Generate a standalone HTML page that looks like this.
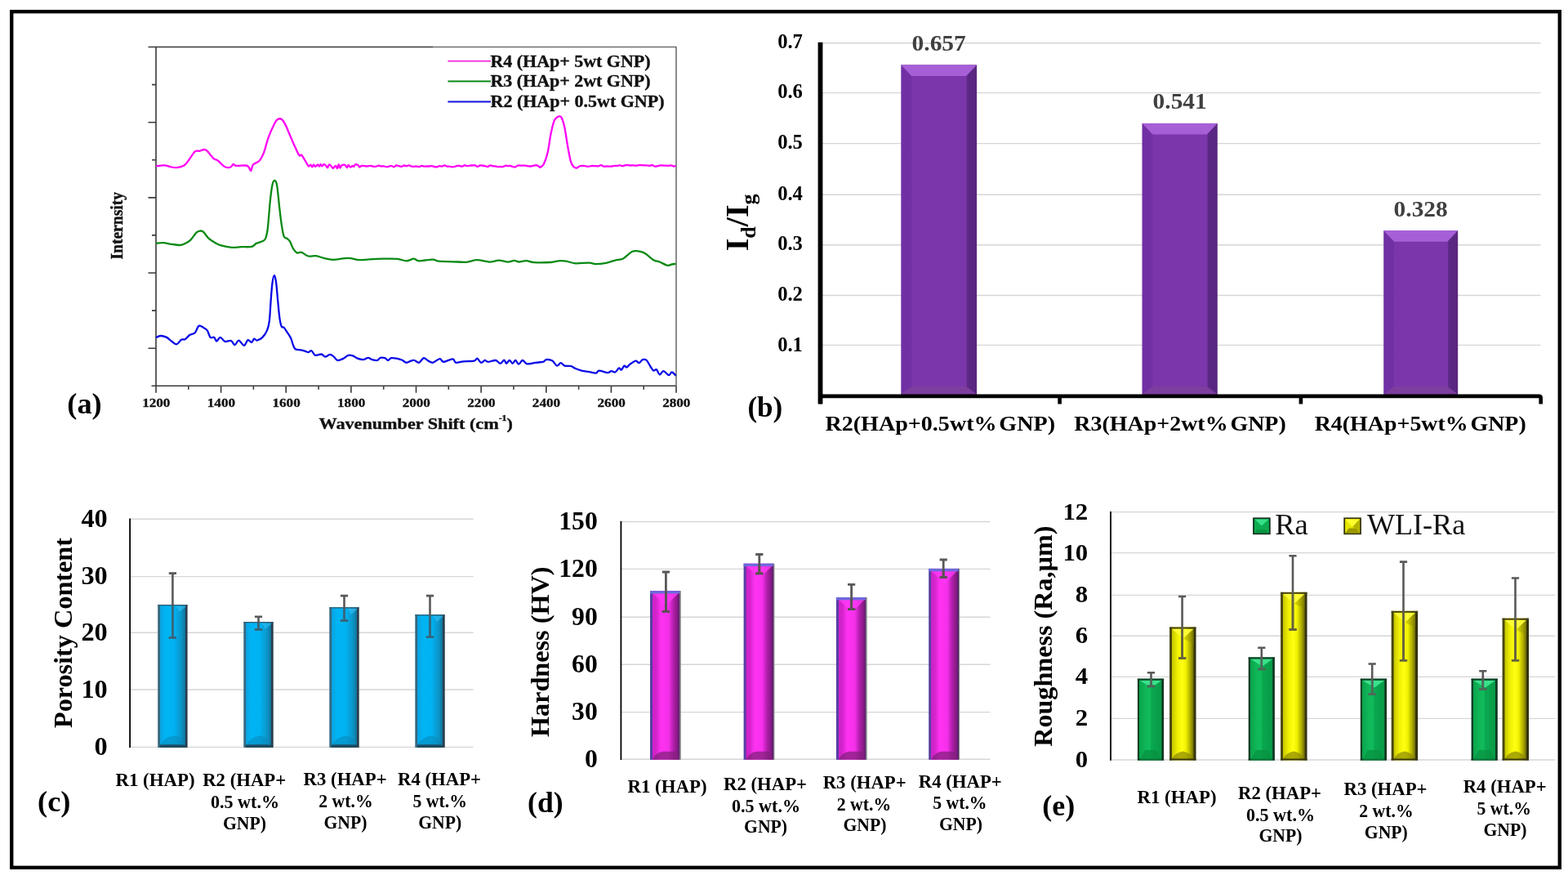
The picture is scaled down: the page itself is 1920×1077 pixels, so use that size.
<!DOCTYPE html>
<html lang="en">
<head>
<meta charset="utf-8">
<title>Raman spectra, Id/Ig ratio, porosity, hardness and roughness of HAp-GNP coatings</title>
<style>
html,body{margin:0;padding:0;background:#fff;}
body{width:1920px;height:1077px;overflow:hidden;}
svg{display:block;font-family:"Liberation Serif","DejaVu Serif",serif;}
</style>
</head>
<body>
<svg width="1920" height="1077" viewBox="0 0 1920 1077">
<rect width="1920" height="1077" fill="#ffffff"/>
<rect x="14.2" y="14.2" width="1895.6" height="1047.6" fill="#fff" stroke="#000" stroke-width="4.4"/>
<g id="chart-a" stroke-linejoin="round">
<g stroke="#3a3a3a" stroke-width="1.6" fill="none" stroke-linecap="butt">
<path d="M181.5 57.5 H530 M191.0 57.5 V480.8 M185.5 472.3 H828.0 M828.0 472.3 V480.8"/>
<path d="M530 57.5 H828.0 V472.3" stroke="#6e6e6e"/>
<path d="M186.0 103.6 H191.0 M181.5 149.7 H191.0 M186.0 195.8 H191.0 M181.5 241.9 H191.0 M186.0 287.9 H191.0 M181.5 334.0 H191.0 M186.0 380.1 H191.0 M181.5 426.2 H191.0 M230.8 472.3 V476.8 M270.6 472.3 V480.8 M310.4 472.3 V476.8 M350.2 472.3 V480.8 M390.1 472.3 V476.8 M429.9 472.3 V480.8 M469.7 472.3 V476.8 M509.5 472.3 V480.8 M549.3 472.3 V476.8 M589.1 472.3 V480.8 M628.9 472.3 V476.8 M668.8 472.3 V480.8 M708.6 472.3 V476.8 M748.4 472.3 V480.8 M788.2 472.3 V476.8 "/>
</g>
<path d="M191.0 203.2C192.7 203.0 198.3 202.1 201.3 202.3C204.3 202.5 206.3 203.7 208.8 204.2C211.3 204.7 213.5 205.4 216.3 205.1C219.1 204.8 223.2 203.9 225.7 202.3C228.2 200.7 229.1 198.5 231.3 195.7C233.5 192.9 236.6 187.2 238.8 185.4C241.0 183.6 242.5 185.2 244.4 184.8C246.3 184.4 248.4 183.0 250.0 183.0C251.6 183.0 251.9 183.0 253.8 184.8C255.7 186.6 259.1 191.8 261.3 193.8C263.5 195.8 264.8 195.1 267.0 196.7C269.2 198.3 272.2 202.2 274.4 203.6C276.6 205.0 278.6 205.0 280.0 205.1C281.4 205.2 282.1 204.9 283.0 204.2C283.9 203.5 284.6 201.2 285.7 201.0C286.8 200.8 286.9 202.7 289.4 202.9C291.9 203.2 298.2 202.3 300.7 202.5C303.2 202.7 303.3 203.1 304.4 204.2C305.5 205.3 306.4 209.4 307.3 208.9C308.2 208.4 308.3 203.4 310.0 201.4C311.7 199.4 315.4 199.2 317.6 196.7C319.8 194.2 321.3 191.2 323.2 186.3C325.1 181.5 326.7 173.5 328.9 167.6C331.1 161.7 334.5 154.3 336.4 150.7C338.3 147.1 338.7 146.8 340.1 146.0C341.5 145.2 343.2 144.9 344.8 146.0C346.4 147.1 347.8 149.3 349.5 152.6C351.2 155.9 353.2 161.3 355.1 165.7C357.0 170.1 358.9 174.7 360.8 178.8C362.7 182.9 365.0 188.3 366.4 190.1C367.8 191.9 368.1 188.9 369.0 189.5C369.9 190.1 371.1 192.4 372.0 193.8C372.9 195.2 373.6 196.4 374.5 198.0C375.4 199.6 376.9 202.4 377.6 203.2C378.4 204.0 378.5 202.9 379.0 202.7C379.5 202.4 380.1 201.5 380.7 201.8C381.3 202.1 381.8 204.5 382.4 204.4C383.0 204.3 383.5 201.5 384.1 201.4C384.7 201.3 385.2 203.5 385.8 203.8C386.4 204.0 386.9 203.3 387.5 202.9C388.1 202.5 388.6 201.2 389.2 201.3C389.8 201.4 390.3 203.7 390.9 203.6C391.5 203.6 392.0 201.3 392.6 201.2C393.2 201.1 393.7 203.2 394.3 203.3C394.9 203.3 395.4 201.7 396.0 201.4C396.6 201.1 397.1 201.2 397.7 201.5C398.3 201.8 398.8 202.6 399.4 203.2C400.0 203.8 400.5 205.6 401.1 205.3C401.7 205.0 402.2 202.2 402.8 201.6C403.4 201.1 403.9 201.7 404.5 202.2C405.1 202.6 405.6 203.6 406.2 204.3C406.8 204.9 407.3 206.0 407.9 205.9C408.5 205.9 409.0 204.5 409.6 204.0C410.2 203.5 410.7 202.7 411.3 203.1C411.9 203.4 412.4 206.4 413.0 206.1C413.6 205.8 414.1 201.3 414.7 201.2C415.3 201.1 415.8 205.3 416.4 205.5C417.0 205.7 417.5 203.1 418.1 202.5C418.7 201.9 419.2 201.9 419.8 201.8C420.4 201.6 420.9 201.5 421.5 201.6C422.1 201.8 422.6 202.0 423.2 202.6C423.8 203.2 424.3 205.4 424.9 205.2C425.5 205.1 426.0 202.1 426.6 201.9C427.2 201.7 427.7 203.6 428.3 204.0C428.9 204.4 429.4 204.5 430.0 204.3C430.6 204.1 431.1 203.0 431.7 202.9C432.3 202.9 432.8 204.1 433.4 203.8C434.0 203.6 434.5 201.7 435.1 201.3C435.7 200.9 436.2 201.2 436.8 201.3C437.4 201.4 437.9 201.5 438.5 202.1C439.1 202.6 439.6 204.4 440.2 204.5C440.8 204.7 441.2 203.4 442.0 203.1C442.8 202.9 444.1 202.8 445.1 202.9C446.1 202.9 447.2 203.4 448.2 203.5C449.2 203.5 450.3 203.3 451.3 203.2C452.3 203.1 453.4 202.7 454.4 202.9C455.4 203.0 456.5 203.8 457.5 203.9C458.5 204.1 459.6 203.9 460.6 203.7C461.6 203.5 462.7 202.8 463.7 202.7C464.7 202.7 465.8 203.4 466.8 203.5C467.8 203.6 468.9 203.2 469.9 203.4C470.9 203.5 472.0 204.1 473.0 204.1C474.0 204.2 475.1 204.0 476.1 203.8C477.1 203.6 478.2 202.7 479.2 202.8C480.2 202.9 481.3 204.4 482.3 204.4C483.3 204.3 484.4 202.7 485.4 202.5C486.4 202.3 487.5 202.9 488.5 203.1C489.5 203.4 490.6 204.0 491.6 203.9C492.6 203.8 493.7 202.6 494.7 202.5C495.7 202.4 496.8 203.3 497.8 203.3C498.8 203.2 499.9 202.2 500.9 202.3C501.9 202.4 503.0 203.4 504.0 203.7C505.0 203.9 506.1 203.9 507.1 203.9C508.1 203.8 509.2 203.4 510.2 203.5C511.2 203.5 512.3 204.2 513.3 204.1C514.3 204.0 515.4 203.0 516.4 202.9C517.4 202.8 518.5 203.6 519.5 203.7C520.5 203.8 521.6 203.5 522.6 203.5C523.6 203.5 524.7 203.5 525.7 203.5C526.7 203.4 527.8 203.1 528.8 203.2C529.8 203.3 530.9 203.9 531.9 204.0C532.9 204.2 534.0 204.4 535.0 204.3C536.0 204.1 537.1 203.3 538.1 203.2C539.1 203.1 540.2 203.8 541.2 203.7C542.2 203.5 543.3 202.3 544.3 202.3C545.3 202.3 546.4 203.5 547.4 203.7C548.4 204.0 549.5 203.5 550.5 203.6C551.5 203.7 552.6 204.3 553.6 204.4C554.6 204.4 555.7 204.3 556.7 204.0C557.7 203.7 558.8 203.0 559.8 202.8C560.8 202.7 561.9 202.9 562.9 203.0C563.9 203.2 565.0 203.8 566.0 203.7C567.0 203.5 568.1 202.3 569.1 202.2C570.1 202.2 571.2 203.2 572.2 203.2C573.2 203.3 574.3 202.7 575.3 202.6C576.3 202.4 577.4 202.5 578.4 202.5C579.4 202.4 580.5 202.1 581.5 202.3C582.5 202.6 583.6 203.9 584.6 203.9C585.6 203.9 586.7 202.7 587.7 202.5C588.7 202.3 589.8 202.6 590.8 202.7C591.8 202.8 592.9 202.8 593.9 203.1C594.9 203.3 596.0 204.2 597.0 204.1C598.0 204.0 599.1 202.5 600.1 202.4C601.1 202.2 602.2 203.0 603.2 203.2C604.2 203.4 605.3 203.2 606.3 203.4C607.3 203.6 608.4 204.0 609.4 204.1C610.4 204.2 611.5 204.0 612.5 204.0C613.5 204.0 614.6 204.3 615.6 204.1C616.6 203.9 617.7 203.0 618.7 202.8C619.7 202.6 620.8 203.1 621.8 203.1C622.8 203.1 623.9 202.8 624.9 203.0C625.9 203.2 627.0 203.9 628.0 204.1C629.0 204.4 630.1 204.6 631.1 204.3C632.1 204.0 633.2 202.8 634.2 202.5C635.2 202.2 636.3 202.6 637.3 202.6C638.3 202.6 639.4 202.7 640.4 202.7C641.4 202.7 642.5 202.6 643.5 202.7C644.5 202.8 645.6 203.1 646.6 203.3C647.6 203.4 648.7 203.6 649.7 203.5C650.7 203.4 651.8 203.0 652.8 202.8C653.8 202.6 654.9 202.2 655.9 202.2C656.9 202.3 658.1 202.7 659.0 203.1C659.9 203.5 660.2 205.2 661.4 204.7C662.6 204.2 664.5 203.5 666.0 200.4C667.5 197.3 669.3 192.4 670.7 186.3C672.1 180.2 673.2 170.1 674.5 163.8C675.8 157.6 677.0 152.2 678.2 148.8C679.5 145.4 680.9 144.7 682.0 143.6C683.1 142.5 683.9 142.3 684.8 142.4C685.7 142.5 686.5 141.8 687.6 144.1C688.7 146.4 690.1 150.5 691.4 156.3C692.6 162.1 693.9 171.9 695.1 178.8C696.4 185.7 697.6 193.4 698.9 197.6C700.1 201.8 701.4 202.9 702.6 204.2C703.9 205.5 705.1 205.7 706.4 205.5C707.6 205.3 709.0 203.7 710.1 203.2C711.2 202.7 712.0 202.8 713.0 202.8C714.0 202.8 715.2 202.9 716.3 203.1C717.4 203.3 718.5 203.8 719.6 203.8C720.7 203.9 721.8 203.5 722.9 203.3C724.0 203.2 725.1 203.0 726.2 203.0C727.3 203.0 728.4 203.2 729.5 203.2C730.6 203.3 731.7 203.5 732.8 203.3C733.9 203.1 735.0 202.1 736.1 202.2C737.2 202.3 738.3 203.5 739.4 203.7C740.5 203.9 741.6 203.5 742.7 203.5C743.8 203.5 744.9 203.7 746.0 203.7C747.1 203.7 748.2 203.7 749.3 203.5C750.4 203.4 751.5 202.9 752.6 202.8C753.7 202.7 754.8 202.9 755.9 202.8C757.0 202.7 758.1 202.2 759.2 202.3C760.3 202.4 761.4 203.3 762.5 203.2C763.6 203.2 764.7 202.4 765.8 202.2C766.9 202.0 768.0 202.2 769.1 202.2C770.2 202.3 771.3 202.4 772.4 202.5C773.5 202.5 774.6 202.4 775.7 202.4C776.8 202.4 777.9 202.7 779.0 202.7C780.1 202.7 781.2 202.3 782.3 202.2C783.4 202.1 784.5 202.1 785.6 202.1C786.7 202.1 787.8 202.3 788.9 202.4C790.0 202.4 791.1 202.2 792.2 202.3C793.3 202.3 794.4 202.8 795.5 202.8C796.6 202.7 797.7 202.0 798.8 202.1C799.9 202.3 801.0 203.5 802.1 203.7C803.2 203.9 804.3 203.4 805.4 203.2C806.5 203.0 807.6 202.5 808.7 202.4C809.8 202.3 810.9 202.5 812.0 202.6C813.1 202.6 814.2 202.7 815.3 202.7C816.4 202.8 817.5 202.8 818.6 202.8C819.7 202.7 820.8 202.2 821.9 202.3C823.0 202.5 824.2 203.5 825.2 203.6C826.1 203.7 827.2 202.9 827.6 202.8" fill="none" stroke="#ff00f6" stroke-width="2.3" stroke-linejoin="round" stroke-linecap="butt"/>
<path d="M191.0 297.9C192.4 297.8 196.1 297.0 199.4 297.2C202.7 297.4 207.2 298.4 210.6 298.9C214.0 299.4 217.5 300.1 220.0 300.0C222.5 299.9 223.5 299.5 225.7 298.5C227.9 297.5 230.7 296.2 233.2 293.8C235.7 291.4 238.7 286.3 240.7 284.4C242.7 282.5 244.0 282.6 245.4 282.5C246.8 282.4 247.4 282.3 249.1 283.9C250.8 285.5 253.3 289.7 255.7 291.9C258.1 294.1 260.7 295.6 263.2 297.0C265.7 298.4 267.3 299.4 270.7 300.4C274.1 301.4 279.7 302.5 283.8 302.8C287.9 303.1 291.0 302.4 295.1 302.2C299.2 302.0 305.1 302.6 308.2 301.9C311.3 301.2 311.6 299.0 313.8 297.9C316.0 296.8 319.4 296.3 321.3 295.3C323.2 294.3 324.0 294.6 325.1 291.9C326.2 289.1 327.0 286.3 327.9 278.8C328.8 271.3 329.8 255.7 330.7 246.9C331.6 238.2 332.6 230.6 333.5 226.3C334.4 222.0 335.4 220.8 336.4 221.0C337.3 221.2 338.3 221.9 339.2 227.2C340.1 232.4 341.1 244.5 342.0 252.5C342.9 260.5 343.9 268.9 344.8 275.0C345.7 281.1 346.5 286.3 347.6 289.1C348.7 291.9 350.1 290.8 351.4 291.9C352.6 293.0 353.9 293.7 355.1 295.7C356.4 297.7 357.5 301.8 358.9 304.1C360.3 306.4 361.9 308.6 363.6 309.4C365.3 310.2 366.9 308.1 369.2 308.8C371.5 309.5 374.6 312.8 377.6 313.5C380.6 314.2 383.9 312.7 387.0 313.1C390.1 313.5 392.9 315.1 396.4 315.9C399.8 316.7 402.7 317.8 407.7 317.8C412.7 317.8 421.1 315.8 426.4 315.9C431.7 316.0 435.2 317.9 439.6 318.2C444.0 318.4 447.7 317.6 452.7 317.4C457.7 317.1 464.0 316.8 469.6 316.7C475.2 316.6 481.8 316.5 486.5 316.9C491.2 317.3 494.3 319.3 497.7 319.3C501.1 319.3 504.0 316.7 506.6 316.7C509.2 316.7 509.2 319.1 513.1 319.3C517.0 319.5 525.9 317.5 530.0 317.6C534.1 317.7 532.5 319.2 537.5 319.7C542.5 320.2 554.4 320.3 560.0 320.5C565.6 320.7 567.2 321.2 571.3 320.8C575.4 320.4 579.7 318.2 584.4 318.2C589.1 318.2 595.0 320.5 599.4 320.6C603.8 320.7 606.9 318.6 610.7 318.6C614.5 318.6 618.9 320.6 622.0 320.6C625.1 320.6 627.3 318.8 629.5 318.8C631.7 318.8 632.6 320.4 635.1 320.5C637.6 320.6 641.4 319.0 644.5 319.1C647.6 319.2 648.9 320.9 653.9 321.2C658.9 321.5 669.5 321.3 674.5 321.0C679.5 320.7 680.8 319.5 683.9 319.3C687.0 319.1 689.8 319.2 693.2 319.7C696.6 320.2 699.8 322.0 704.5 322.3C709.2 322.6 717.3 321.5 721.4 321.6C725.5 321.7 725.5 323.1 728.9 323.1C732.3 323.2 737.9 322.6 742.0 321.9C746.1 321.1 749.8 319.5 753.3 318.6C756.8 317.7 759.9 318.0 762.7 316.7C765.5 315.4 768.0 312.3 770.2 310.7C772.4 309.1 773.3 307.7 775.8 307.3C778.3 306.9 782.7 307.5 785.2 308.1C787.7 308.7 788.3 309.0 790.8 310.7C793.3 312.4 797.4 316.6 800.2 318.2C803.0 319.8 804.9 319.4 807.7 320.5C810.5 321.6 814.6 324.3 817.1 324.8C819.6 325.3 821.0 323.8 822.7 323.5C824.5 323.2 826.8 323.0 827.6 322.9" fill="none" stroke="#0a8a14" stroke-width="2.3" stroke-linejoin="round" stroke-linecap="butt"/>
<path d="M191.0 413.2C191.9 412.8 194.4 411.1 196.6 411.0C198.8 410.9 202.1 412.0 204.1 412.9C206.1 413.8 206.8 415.2 208.8 416.6C210.8 418.0 214.1 421.5 216.3 421.3C218.5 421.1 220.2 416.7 221.9 415.7C223.6 414.7 224.9 416.2 226.6 415.3C228.3 414.4 230.2 411.4 232.2 410.0C234.2 408.6 237.1 408.9 238.8 407.2C240.5 405.5 241.5 401.1 242.6 399.7C243.7 398.3 244.2 398.5 245.4 398.8C246.7 399.1 248.7 400.7 250.1 401.6C251.5 402.5 252.6 402.5 253.8 404.4C255.1 406.3 256.2 411.5 257.6 412.9C259.0 414.3 261.1 412.1 262.3 412.9C263.6 413.7 263.9 417.6 265.1 417.6C266.4 417.6 268.1 412.8 269.8 412.9C271.5 412.9 273.2 417.2 275.4 417.9C277.6 418.6 280.9 416.3 282.9 417.0C284.9 417.7 286.0 422.3 287.6 422.2C289.2 422.1 290.4 416.5 292.3 416.6C294.2 416.7 296.9 422.9 298.8 422.8C300.7 422.7 301.9 416.7 303.5 416.1C305.1 415.5 306.9 419.3 308.2 419.1C309.4 418.9 309.9 415.1 311.0 414.7C312.1 414.3 313.1 416.9 314.8 416.6C316.5 416.3 319.4 414.9 321.4 412.9C323.4 410.9 325.6 407.7 327.0 404.4C328.4 401.1 329.0 399.4 329.8 393.2C330.6 386.9 331.1 374.7 331.7 366.9C332.3 359.1 332.8 351.3 333.5 346.3C334.2 341.3 335.2 336.9 336.0 336.9C336.8 336.9 337.5 341.3 338.2 346.3C338.9 351.3 339.4 359.7 340.1 366.9C340.8 374.1 341.6 383.9 342.4 389.4C343.2 394.9 343.9 397.8 344.8 399.7C345.7 401.6 346.5 399.6 347.6 400.7C348.7 401.8 350.0 404.1 351.4 406.3C352.8 408.5 354.9 411.2 356.1 413.8C357.4 416.4 358.0 419.9 358.9 422.2C359.8 424.4 360.1 426.3 361.7 427.3C363.3 428.3 366.3 427.9 368.3 428.3C370.3 428.7 372.3 429.3 373.9 429.8C375.4 430.3 376.4 431.2 377.6 431.1C378.9 431.0 380.0 428.6 381.4 429.2C382.8 429.8 384.1 434.1 386.1 434.8C388.1 435.5 391.6 433.2 393.6 433.5C395.6 433.8 396.6 436.6 398.3 436.7C400.0 436.8 402.2 434.0 403.9 433.9C405.6 433.8 407.0 435.1 408.6 436.3C410.2 437.5 411.3 440.6 413.3 441.0C415.3 441.4 418.6 439.6 420.8 438.6C423.0 437.6 424.5 435.3 426.4 434.8C428.3 434.3 430.1 434.8 432.0 435.4C433.9 436.0 435.5 437.8 437.7 438.6C439.9 439.4 443.0 440.2 445.2 440.1C447.4 440.0 449.1 437.8 450.8 437.8C452.5 437.8 453.6 439.6 455.5 440.1C457.4 440.6 460.3 441.4 462.0 441.0C463.7 440.6 464.2 438.3 465.8 437.8C467.4 437.3 469.8 437.7 471.4 438.2C473.0 438.7 473.9 441.0 475.2 441.0C476.5 441.0 477.1 438.6 479.0 438.2C480.9 437.8 484.3 438.4 486.5 438.8C488.7 439.2 490.1 439.7 492.0 440.5C493.9 441.3 495.8 443.6 497.7 443.8C499.6 444.0 501.7 442.1 503.3 441.6C504.9 441.1 505.9 440.6 507.5 441.0C509.1 441.4 511.2 444.3 513.1 443.8C515.0 443.3 516.9 438.6 518.8 438.2C520.7 437.8 522.5 440.7 524.4 441.6C526.3 442.5 527.6 444.2 530.0 443.8C532.4 443.4 536.3 439.2 538.5 439.1C540.7 439.0 540.5 442.9 543.1 442.9C545.8 442.9 551.9 439.1 554.4 439.3C556.9 439.5 556.0 443.3 558.2 443.8C560.4 444.3 563.8 442.7 567.5 442.3C571.2 441.9 577.9 442.2 580.7 441.6C583.5 441.0 583.0 438.2 584.4 438.6C585.8 439.0 587.5 443.4 589.1 443.8C590.7 444.2 592.4 441.1 593.8 441.0C595.2 440.9 595.4 442.9 597.6 442.9C599.8 442.9 604.4 440.7 606.9 441.0C609.4 441.3 610.9 444.9 612.6 444.8C614.3 444.7 616.1 440.6 617.3 440.6C618.5 440.6 618.9 444.7 620.0 444.8C621.1 444.9 622.5 441.0 623.8 441.0C625.1 441.0 626.4 444.8 627.6 444.8C628.9 444.8 630.0 440.9 631.3 441.0C632.5 441.1 633.7 445.7 635.1 445.7C636.5 445.7 638.1 441.1 639.8 441.0C641.5 440.9 642.8 444.8 645.4 445.3C648.0 445.8 652.4 444.2 655.7 443.8C659.0 443.4 662.9 443.5 665.1 442.9C667.3 442.3 667.0 440.3 668.9 440.1C670.8 439.9 674.2 440.4 676.4 441.6C678.6 442.9 680.3 447.2 682.0 447.6C683.7 448.0 685.1 444.2 686.7 444.2C688.3 444.2 689.4 447.0 691.4 447.6C693.4 448.2 696.7 447.4 698.9 448.0C701.1 448.6 702.3 450.1 704.5 451.0C706.7 451.9 709.2 452.9 712.0 453.6C714.8 454.3 718.4 454.6 721.4 455.1C724.4 455.6 727.8 456.9 729.8 456.6C731.8 456.4 731.2 453.7 733.6 453.6C736.0 453.5 741.4 456.1 743.9 456.2C746.4 456.3 747.0 454.2 748.6 454.1C750.2 454.0 751.7 456.1 753.3 455.5C754.9 454.9 756.8 450.8 758.0 450.4C759.2 449.9 759.7 453.3 760.8 452.8C761.9 452.3 763.4 448.2 764.5 447.6C765.6 447.1 766.1 449.9 767.4 449.5C768.6 449.1 770.1 446.6 772.0 445.3C773.9 444.0 776.9 441.8 778.6 441.6C780.3 441.4 781.0 444.4 782.4 444.2C783.8 443.9 785.5 440.6 787.1 440.1C788.7 439.6 790.2 439.6 791.8 441.0C793.3 442.4 795.0 446.4 796.4 448.5C797.8 450.6 799.0 453.0 800.2 453.6C801.5 454.2 802.6 451.5 803.9 452.3C805.1 453.1 806.3 458.2 807.7 458.5C809.1 458.8 810.5 454.0 812.4 454.1C814.3 454.2 817.2 459.0 818.9 459.2C820.6 459.4 821.2 455.4 822.7 455.5C824.2 455.6 826.8 459.1 827.6 459.8" fill="none" stroke="#0a0ae6" stroke-width="2.3" stroke-linejoin="round" stroke-linecap="butt"/>
<line x1="548.4" y1="74.7" x2="601" y2="74.7" stroke="#f040e0" stroke-width="2"/>
<text x="600.5" y="81.5" font-size="20" text-anchor="start" font-weight="bold" fill="#111" textLength="196.0" lengthAdjust="spacingAndGlyphs" stroke="#111" stroke-width="0.35">R4 (HAp+ 5wt GNP)</text>
<line x1="548.4" y1="99.6" x2="601" y2="99.6" stroke="#0a8a14" stroke-width="2"/>
<text x="600.5" y="106.4" font-size="20" text-anchor="start" font-weight="bold" fill="#111" textLength="196.0" lengthAdjust="spacingAndGlyphs" stroke="#111" stroke-width="0.35">R3 (HAp+ 2wt GNP)</text>
<line x1="548.4" y1="124.5" x2="601" y2="124.5" stroke="#1010e0" stroke-width="2"/>
<text x="600.5" y="131.3" font-size="20" text-anchor="start" font-weight="bold" fill="#111" textLength="213.0" lengthAdjust="spacingAndGlyphs" stroke="#111" stroke-width="0.35">R2 (HAp+ 0.5wt GNP)</text>
<text x="191.3" y="498.3" font-size="15" text-anchor="middle" font-weight="bold" fill="#111" textLength="34.3" lengthAdjust="spacingAndGlyphs" stroke="#111" stroke-width="0.3">1200</text>
<text x="270.9" y="498.3" font-size="15" text-anchor="middle" font-weight="bold" fill="#111" textLength="34.3" lengthAdjust="spacingAndGlyphs" stroke="#111" stroke-width="0.3">1400</text>
<text x="350.6" y="498.3" font-size="15" text-anchor="middle" font-weight="bold" fill="#111" textLength="34.3" lengthAdjust="spacingAndGlyphs" stroke="#111" stroke-width="0.3">1600</text>
<text x="430.2" y="498.3" font-size="15" text-anchor="middle" font-weight="bold" fill="#111" textLength="34.3" lengthAdjust="spacingAndGlyphs" stroke="#111" stroke-width="0.3">1800</text>
<text x="509.8" y="498.3" font-size="15" text-anchor="middle" font-weight="bold" fill="#111" textLength="34.3" lengthAdjust="spacingAndGlyphs" stroke="#111" stroke-width="0.3">2000</text>
<text x="589.4" y="498.3" font-size="15" text-anchor="middle" font-weight="bold" fill="#111" textLength="34.3" lengthAdjust="spacingAndGlyphs" stroke="#111" stroke-width="0.3">2200</text>
<text x="669.0" y="498.3" font-size="15" text-anchor="middle" font-weight="bold" fill="#111" textLength="34.3" lengthAdjust="spacingAndGlyphs" stroke="#111" stroke-width="0.3">2400</text>
<text x="748.7" y="498.3" font-size="15" text-anchor="middle" font-weight="bold" fill="#111" textLength="34.3" lengthAdjust="spacingAndGlyphs" stroke="#111" stroke-width="0.3">2600</text>
<text x="828.3" y="498.3" font-size="15" text-anchor="middle" font-weight="bold" fill="#111" textLength="34.3" lengthAdjust="spacingAndGlyphs" stroke="#111" stroke-width="0.3">2800</text>
<text x="509.2" y="524.5" font-size="19.6" text-anchor="middle" font-weight="bold" fill="#111" textLength="237.5" lengthAdjust="spacingAndGlyphs" stroke="#111" stroke-width="0.35">Wavenumber Shift (cm<tspan font-size="10.5" dy="-9.5">-1</tspan><tspan dy="9.5">)</tspan></text>
<text x="150.2" y="276.3" font-size="22" text-anchor="middle" font-weight="bold" fill="#111" transform="rotate(-90 150.2 276.3)" textLength="82.5" lengthAdjust="spacingAndGlyphs" stroke="#111" stroke-width="0.45">Internsity</text>
<text x="103.5" y="506.3" font-size="36.3" text-anchor="middle" font-weight="bold" fill="#000">(a)</text>
</g>
<g id="chart-b">
<line x1="1007" y1="422.4" x2="1886.5" y2="422.4" stroke="#d6d6d6" stroke-width="1.4"/>
<text x="982.9" y="430.4" font-size="24.6" text-anchor="end" font-weight="bold" fill="#000">0.1</text>
<line x1="1007" y1="361.5" x2="1886.5" y2="361.5" stroke="#d6d6d6" stroke-width="1.4"/>
<text x="982.9" y="368.1" font-size="24.6" text-anchor="end" font-weight="bold" fill="#000">0.2</text>
<line x1="1007" y1="299.7" x2="1886.5" y2="299.7" stroke="#d6d6d6" stroke-width="1.4"/>
<text x="982.9" y="306.3" font-size="24.6" text-anchor="end" font-weight="bold" fill="#000">0.3</text>
<line x1="1007" y1="238.2" x2="1886.5" y2="238.2" stroke="#d6d6d6" stroke-width="1.4"/>
<text x="982.9" y="244.5" font-size="24.6" text-anchor="end" font-weight="bold" fill="#000">0.4</text>
<line x1="1007" y1="175.6" x2="1886.5" y2="175.6" stroke="#d6d6d6" stroke-width="1.4"/>
<text x="982.9" y="181.8" font-size="24.6" text-anchor="end" font-weight="bold" fill="#000">0.5</text>
<line x1="1007" y1="113.6" x2="1886.5" y2="113.6" stroke="#d6d6d6" stroke-width="1.4"/>
<text x="982.9" y="119.6" font-size="24.6" text-anchor="end" font-weight="bold" fill="#000">0.6</text>
<line x1="1007" y1="52.7" x2="1886.5" y2="52.7" stroke="#d6d6d6" stroke-width="1.4"/>
<text x="982.9" y="59.0" font-size="24.6" text-anchor="end" font-weight="bold" fill="#000">0.7</text>
<defs>
<linearGradient id="pb" x1="0" x2="1" y1="0" y2="0">
<stop offset="0" stop-color="#7030a4"/><stop offset="0.135" stop-color="#7131a5"/><stop offset="0.15" stop-color="#7b36ab"/>
<stop offset="0.86" stop-color="#7b36ab"/><stop offset="0.875" stop-color="#5b2985"/><stop offset="1" stop-color="#58277f"/>
</linearGradient></defs>
<rect x="1103.3" y="79.4" width="92.8" height="405.2" fill="url(#pb)"/>
<path d="M1103.3 79.4 H1196.1 L1183.1 92.9 H1116.3 Z" fill="#a75fd8"/>
<path d="M1103.3 482.6 L1116.3 473.1 H1183.1 L1196.1 482.6 Z" fill="#7c3f9e"/>
<text x="1149.7" y="61.8" font-size="26.6" text-anchor="middle" font-weight="bold" fill="#404040" textLength="66.2" lengthAdjust="spacingAndGlyphs">0.657</text>
<rect x="1398.5" y="150.9" width="92.3" height="333.7" fill="url(#pb)"/>
<path d="M1398.5 150.9 H1490.8 L1477.8 164.4 H1411.5 Z" fill="#a75fd8"/>
<path d="M1398.5 482.6 L1411.5 473.1 H1477.8 L1490.8 482.6 Z" fill="#7c3f9e"/>
<text x="1444.7" y="133.3" font-size="26.6" text-anchor="middle" font-weight="bold" fill="#404040" textLength="66.2" lengthAdjust="spacingAndGlyphs">0.541</text>
<rect x="1694.2" y="282.3" width="91.0" height="202.3" fill="url(#pb)"/>
<path d="M1694.2 282.3 H1785.2 L1772.2 295.8 H1707.2 Z" fill="#a75fd8"/>
<path d="M1694.2 482.6 L1707.2 473.1 H1772.2 L1785.2 482.6 Z" fill="#7c3f9e"/>
<text x="1739.7" y="264.7" font-size="26.6" text-anchor="middle" font-weight="bold" fill="#404040" textLength="66.2" lengthAdjust="spacingAndGlyphs">0.328</text>
<path d="M1004.6 52 V494.5 M1002.3 484.9 H1884.5 Q1886.7 484.9 1886.7 487.2 V494.5 M1297.6 484.9 V494.5 M1592.9 484.9 V494.5" fill="none" stroke="#000" stroke-width="4.6"/>
<line x1="1004.5" y1="51.8" x2="1004.5" y2="494.3" stroke="#000" stroke-width="5.8"/>
<text x="1151.2" y="527.4" font-size="25.5" text-anchor="middle" font-weight="bold" fill="#000" textLength="281.6" lengthAdjust="spacingAndGlyphs">R2(HAp+0.5wt%<tspan dx="2.5">GNP)</tspan></text>
<text x="1445.0" y="527.4" font-size="25.5" text-anchor="middle" font-weight="bold" fill="#000" textLength="259.5" lengthAdjust="spacingAndGlyphs">R3(HAp+2wt%<tspan dx="2.5">GNP)</tspan></text>
<text x="1739.2" y="527.4" font-size="25.5" text-anchor="middle" font-weight="bold" fill="#000" textLength="259.0" lengthAdjust="spacingAndGlyphs">R4(HAp+5wt%<tspan dx="2.5">GNP)</tspan></text>
<text x="936.8" y="509.8" font-size="35" text-anchor="middle" font-weight="bold" fill="#000">(b)</text>
<text x="915.7" y="307.2" font-size="40" text-anchor="start" font-weight="bold" fill="#000" transform="rotate(-90 915.7 307.2)">I<tspan font-size="26" dy="9">d</tspan><tspan dy="-9">/I</tspan><tspan font-size="26" dy="9">g</tspan></text>
</g>
<g id="chart-c">
<line x1="159.5" y1="914.4" x2="579.5" y2="914.4" stroke="#d6d6d6" stroke-width="1.4"/>
<text transform="translate(131.7 924.0) scale(1.05 1)" font-size="30.8" text-anchor="end" font-weight="bold" fill="#000">0</text>
<line x1="159.5" y1="844.0" x2="579.5" y2="844.0" stroke="#d6d6d6" stroke-width="1.4"/>
<text transform="translate(131.7 853.6) scale(1.05 1)" font-size="30.8" text-anchor="end" font-weight="bold" fill="#000">10</text>
<line x1="159.5" y1="774.2" x2="579.5" y2="774.2" stroke="#d6d6d6" stroke-width="1.4"/>
<text transform="translate(131.7 783.8) scale(1.05 1)" font-size="30.8" text-anchor="end" font-weight="bold" fill="#000">20</text>
<line x1="159.5" y1="705.6" x2="579.5" y2="705.6" stroke="#d6d6d6" stroke-width="1.4"/>
<text transform="translate(131.7 715.2) scale(1.05 1)" font-size="30.8" text-anchor="end" font-weight="bold" fill="#000">30</text>
<line x1="159.5" y1="635.3" x2="579.5" y2="635.3" stroke="#d6d6d6" stroke-width="1.4"/>
<text transform="translate(131.7 644.9) scale(1.05 1)" font-size="30.8" text-anchor="end" font-weight="bold" fill="#000">40</text>
<line x1="159.1" y1="634.6" x2="159.1" y2="915" stroke="#000" stroke-width="1.8"/>
<defs>
<linearGradient id="cb" x1="0" x2="1" y1="0" y2="0">
<stop offset="0" stop-color="#356a82"/><stop offset="0.07" stop-color="#33677f"/><stop offset="0.09" stop-color="#0aa4e0"/>
<stop offset="0.25" stop-color="#00b4f4"/><stop offset="0.55" stop-color="#00b2f2"/><stop offset="0.8" stop-color="#0c93c6"/>
<stop offset="0.915" stop-color="#12749e"/><stop offset="0.93" stop-color="#27404e"/><stop offset="1" stop-color="#283c48"/>
</linearGradient></defs>
<rect x="193.2" y="740.0" width="36.4" height="174.9" fill="url(#cb)"/>
<path d="M215.6 741.5 H227.0 V743.0 L219.6 749.0 Z" fill="#35c6fb" opacity="0.55"/>
<rect x="193.2" y="740.0" width="36.4" height="1.3" fill="#2f5d74"/>
<path d="M195.8 914.9 V911.3 Q211.4 910.1 227.0 911.3 V914.9 Z" fill="#1f4a5e"/>
<path d="M195.8 911.7 Q201.2 902.3 213.4 900.3 Q223.6 902.3 227.0 911.7 Z" fill="#0a86b8" opacity="0.55"/>
<path d="M211.4 701.6 V780.4 M206.8 701.6 H216.0 M206.8 780.4 H216.0" stroke="#595959" stroke-width="2.6" fill="none"/>
<path d="M211.4 741.5 V780.4 M206.8 780.4 H216.0" stroke="#35677f" stroke-width="2.6" fill="none"/>
<rect x="298.3" y="761.0" width="36.4" height="153.9" fill="url(#cb)"/>
<path d="M320.7 762.5 H332.1 V764.0 L324.7 770.0 Z" fill="#35c6fb" opacity="0.55"/>
<rect x="298.3" y="761.0" width="36.4" height="1.3" fill="#2f5d74"/>
<path d="M300.9 914.9 V911.3 Q316.5 910.1 332.1 911.3 V914.9 Z" fill="#1f4a5e"/>
<path d="M300.9 911.7 Q306.3 902.3 318.5 900.3 Q328.7 902.3 332.1 911.7 Z" fill="#0a86b8" opacity="0.55"/>
<path d="M316.5 754.8 V770.4 M311.9 754.8 H321.1 M311.9 770.4 H321.1" stroke="#595959" stroke-width="2.6" fill="none"/>
<path d="M316.5 762.5 V770.4 M311.9 770.4 H321.1" stroke="#35677f" stroke-width="2.6" fill="none"/>
<rect x="403.3" y="743.2" width="36.4" height="171.7" fill="url(#cb)"/>
<path d="M425.7 744.7 H437.1 V746.2 L429.7 752.2 Z" fill="#35c6fb" opacity="0.55"/>
<rect x="403.3" y="743.2" width="36.4" height="1.3" fill="#2f5d74"/>
<path d="M405.9 914.9 V911.3 Q421.5 910.1 437.1 911.3 V914.9 Z" fill="#1f4a5e"/>
<path d="M405.9 911.7 Q411.3 902.3 423.5 900.3 Q433.7 902.3 437.1 911.7 Z" fill="#0a86b8" opacity="0.55"/>
<path d="M421.5 729.1 V759.5 M416.9 729.1 H426.1 M416.9 759.5 H426.1" stroke="#595959" stroke-width="2.6" fill="none"/>
<path d="M421.5 744.7 V759.5 M416.9 759.5 H426.1" stroke="#35677f" stroke-width="2.6" fill="none"/>
<rect x="508.3" y="752.2" width="36.4" height="162.7" fill="url(#cb)"/>
<path d="M530.7 753.7 H542.1 V755.2 L534.7 761.2 Z" fill="#35c6fb" opacity="0.55"/>
<rect x="508.3" y="752.2" width="36.4" height="1.3" fill="#2f5d74"/>
<path d="M510.9 914.9 V911.3 Q526.5 910.1 542.1 911.3 V914.9 Z" fill="#1f4a5e"/>
<path d="M510.9 911.7 Q516.3 902.3 528.5 900.3 Q538.7 902.3 542.1 911.7 Z" fill="#0a86b8" opacity="0.55"/>
<path d="M526.5 729.1 V779.8 M521.9 729.1 H531.1 M521.9 779.8 H531.1" stroke="#595959" stroke-width="2.6" fill="none"/>
<path d="M526.5 753.7 V779.8 M521.9 779.8 H531.1" stroke="#35677f" stroke-width="2.6" fill="none"/>
<text x="190.0" y="962.2" font-size="22.3" text-anchor="middle" font-weight="bold" fill="#000" textLength="97.0" lengthAdjust="spacingAndGlyphs">R1 (HAP)</text>
<text x="299.2" y="962.2" font-size="22.3" text-anchor="middle" font-weight="bold" fill="#000" textLength="102.0" lengthAdjust="spacingAndGlyphs">R2 (HAP+</text>
<text x="300.0" y="988.8" font-size="22.3" text-anchor="middle" font-weight="bold" fill="#000" textLength="84.0" lengthAdjust="spacingAndGlyphs">0.5 wt.%</text>
<text x="299.5" y="1015.3" font-size="22.3" text-anchor="middle" font-weight="bold" fill="#000" textLength="53.0" lengthAdjust="spacingAndGlyphs">GNP)</text>
<text x="422.6" y="961.0" font-size="22.3" text-anchor="middle" font-weight="bold" fill="#000" textLength="102.0" lengthAdjust="spacingAndGlyphs">R3 (HAP+</text>
<text x="423.5" y="988.0" font-size="22.3" text-anchor="middle" font-weight="bold" fill="#000" textLength="66.3" lengthAdjust="spacingAndGlyphs">2 wt.%</text>
<text x="423.0" y="1013.8" font-size="22.3" text-anchor="middle" font-weight="bold" fill="#000" textLength="53.0" lengthAdjust="spacingAndGlyphs">GNP)</text>
<text x="538.0" y="961.0" font-size="22.3" text-anchor="middle" font-weight="bold" fill="#000" textLength="102.0" lengthAdjust="spacingAndGlyphs">R4 (HAP+</text>
<text x="538.7" y="988.0" font-size="22.3" text-anchor="middle" font-weight="bold" fill="#000" textLength="66.3" lengthAdjust="spacingAndGlyphs">5 wt.%</text>
<text x="538.7" y="1013.8" font-size="22.3" text-anchor="middle" font-weight="bold" fill="#000" textLength="53.0" lengthAdjust="spacingAndGlyphs">GNP)</text>
<text x="66.2" y="992.6" font-size="36.3" text-anchor="middle" font-weight="bold" fill="#000">(c)</text>
<text x="87.8" y="891.0" font-size="32" text-anchor="start" font-weight="bold" fill="#000" transform="rotate(-90 87.8 891.0)" textLength="233.0" lengthAdjust="spacingAndGlyphs">Porosity Content</text>
</g>
<g id="chart-d">
<line x1="760.8" y1="929.3" x2="1212.4" y2="929.3" stroke="#d6d6d6" stroke-width="1.4"/>
<text transform="translate(731.8 939.1) scale(1.03 1)" font-size="30.8" text-anchor="end" font-weight="bold" fill="#000">0</text>
<line x1="760.8" y1="871.6" x2="1212.4" y2="871.6" stroke="#d6d6d6" stroke-width="1.4"/>
<text transform="translate(731.8 881.4) scale(1.03 1)" font-size="30.8" text-anchor="end" font-weight="bold" fill="#000">30</text>
<line x1="760.8" y1="813.3" x2="1212.4" y2="813.3" stroke="#d6d6d6" stroke-width="1.4"/>
<text transform="translate(731.8 823.1) scale(1.03 1)" font-size="30.8" text-anchor="end" font-weight="bold" fill="#000">60</text>
<line x1="760.8" y1="755.2" x2="1212.4" y2="755.2" stroke="#d6d6d6" stroke-width="1.4"/>
<text transform="translate(731.8 765.0) scale(1.03 1)" font-size="30.8" text-anchor="end" font-weight="bold" fill="#000">90</text>
<line x1="760.8" y1="696.4" x2="1212.4" y2="696.4" stroke="#d6d6d6" stroke-width="1.4"/>
<text transform="translate(731.8 706.2) scale(1.03 1)" font-size="30.8" text-anchor="end" font-weight="bold" fill="#000">120</text>
<line x1="760.8" y1="638.5" x2="1212.4" y2="638.5" stroke="#d6d6d6" stroke-width="1.4"/>
<text transform="translate(731.8 648.3) scale(1.03 1)" font-size="30.8" text-anchor="end" font-weight="bold" fill="#000">150</text>
<line x1="760.4" y1="637.8" x2="760.4" y2="930" stroke="#000" stroke-width="1.8"/>
<defs>
<linearGradient id="db" x1="0" x2="1" y1="0" y2="0">
<stop offset="0" stop-color="#5540a2"/><stop offset="0.07" stop-color="#5a3fa4"/><stop offset="0.09" stop-color="#cf22c8"/>
<stop offset="0.2" stop-color="#d424cc"/><stop offset="0.36" stop-color="#ff32f2"/><stop offset="0.6" stop-color="#f530ea"/>
<stop offset="0.75" stop-color="#b41fae"/><stop offset="0.88" stop-color="#8a1a86"/><stop offset="0.96" stop-color="#5a2070"/>
<stop offset="0.965" stop-color="#7a7a80"/><stop offset="1" stop-color="#8a8a8e"/>
</linearGradient></defs>
<rect x="796.0" y="723.1" width="37.8" height="206.7" fill="url(#db)"/>
<path d="M798.8 725.9 H830.8 L815.9 741.1 Z" fill="#ff38f4" opacity="0.8"/>
<rect x="796.0" y="723.1" width="36.3" height="3.4" fill="#6f68dc"/>
<path d="M798.8 929.8 Q802.0 922.3 810.9 919.8 H828.8 L831.8 929.8 Z" fill="#84207e" opacity="0.75"/>
<path d="M815.4 700.0 V748.3 M810.8 700.0 H820.0 M810.8 748.3 H820.0" stroke="#595959" stroke-width="2.8" fill="none"/>
<path d="M815.4 724.6 V748.3 M810.8 748.3 H820.0" stroke="#5a5050" stroke-width="2.8" fill="none"/>
<rect x="910.6" y="689.7" width="37.8" height="240.1" fill="url(#db)"/>
<path d="M913.4 692.5 H945.4 L930.5 707.7 Z" fill="#ff38f4" opacity="0.8"/>
<rect x="910.6" y="689.7" width="36.3" height="3.4" fill="#6f68dc"/>
<path d="M913.4 929.8 Q916.6 922.3 925.5 919.8 H943.4 L946.4 929.8 Z" fill="#84207e" opacity="0.75"/>
<path d="M929.8 678.5 V701.9 M925.2 678.5 H934.4 M925.2 701.9 H934.4" stroke="#595959" stroke-width="2.8" fill="none"/>
<path d="M929.8 691.2 V701.9 M925.2 701.9 H934.4" stroke="#5a5050" stroke-width="2.8" fill="none"/>
<rect x="1023.9" y="731.0" width="37.8" height="198.8" fill="url(#db)"/>
<path d="M1026.7 733.8 H1058.7 L1043.8 749.0 Z" fill="#ff38f4" opacity="0.8"/>
<rect x="1023.9" y="731.0" width="36.3" height="3.4" fill="#6f68dc"/>
<path d="M1026.7 929.8 Q1029.9 922.3 1038.8 919.8 H1056.7 L1059.7 929.8 Z" fill="#84207e" opacity="0.75"/>
<path d="M1042.6 715.4 V745.6 M1038.0 715.4 H1047.2 M1038.0 745.6 H1047.2" stroke="#595959" stroke-width="2.8" fill="none"/>
<path d="M1042.6 732.5 V745.6 M1038.0 745.6 H1047.2" stroke="#5a5050" stroke-width="2.8" fill="none"/>
<rect x="1137.2" y="695.9" width="37.8" height="233.9" fill="url(#db)"/>
<path d="M1140.0 698.7 H1172.0 L1157.1 713.9 Z" fill="#ff38f4" opacity="0.8"/>
<rect x="1137.2" y="695.9" width="36.3" height="3.4" fill="#6f68dc"/>
<path d="M1140.0 929.8 Q1143.2 922.3 1152.1 919.8 H1170.0 L1173.0 929.8 Z" fill="#84207e" opacity="0.75"/>
<path d="M1155.2 685.0 V706.6 M1150.6 685.0 H1159.8 M1150.6 706.6 H1159.8" stroke="#595959" stroke-width="2.8" fill="none"/>
<path d="M1155.2 697.4 V706.6 M1150.6 706.6 H1159.8" stroke="#5a5050" stroke-width="2.8" fill="none"/>
<text x="817.0" y="969.7" font-size="22.3" text-anchor="middle" font-weight="bold" fill="#000" textLength="97.0" lengthAdjust="spacingAndGlyphs">R1 (HAP)</text>
<text x="937.0" y="967.0" font-size="22.3" text-anchor="middle" font-weight="bold" fill="#000" textLength="102.0" lengthAdjust="spacingAndGlyphs">R2 (HAP+</text>
<text x="938.0" y="993.8" font-size="22.3" text-anchor="middle" font-weight="bold" fill="#000" textLength="84.0" lengthAdjust="spacingAndGlyphs">0.5 wt.%</text>
<text x="937.6" y="1019.4" font-size="22.3" text-anchor="middle" font-weight="bold" fill="#000" textLength="53.0" lengthAdjust="spacingAndGlyphs">GNP)</text>
<text x="1058.7" y="965.3" font-size="22.3" text-anchor="middle" font-weight="bold" fill="#000" textLength="102.0" lengthAdjust="spacingAndGlyphs">R3 (HAP+</text>
<text x="1058.0" y="992.0" font-size="22.3" text-anchor="middle" font-weight="bold" fill="#000" textLength="66.3" lengthAdjust="spacingAndGlyphs">2 wt.%</text>
<text x="1059.0" y="1017.1" font-size="22.3" text-anchor="middle" font-weight="bold" fill="#000" textLength="53.0" lengthAdjust="spacingAndGlyphs">GNP)</text>
<text x="1175.8" y="963.7" font-size="22.3" text-anchor="middle" font-weight="bold" fill="#000" textLength="102.0" lengthAdjust="spacingAndGlyphs">R4 (HAP+</text>
<text x="1175.4" y="990.4" font-size="22.3" text-anchor="middle" font-weight="bold" fill="#000" textLength="66.3" lengthAdjust="spacingAndGlyphs">5 wt.%</text>
<text x="1176.4" y="1016.0" font-size="22.3" text-anchor="middle" font-weight="bold" fill="#000" textLength="53.0" lengthAdjust="spacingAndGlyphs">GNP)</text>
<text x="667.8" y="993.6" font-size="35.6" text-anchor="middle" font-weight="bold" fill="#000">(d)</text>
<text x="672.4" y="902.0" font-size="31.6" text-anchor="start" font-weight="bold" fill="#000" transform="rotate(-90 672.4 902.0)" textLength="208.5" lengthAdjust="spacingAndGlyphs">Hardness (HV)</text>
</g>
<g id="chart-e">
<line x1="1360.5" y1="930.0" x2="1904.3" y2="930.0" stroke="#d6d6d6" stroke-width="1.4"/>
<text transform="translate(1332.2 939.0) scale(1.02 1)" font-size="30.2" text-anchor="end" font-weight="bold" fill="#000">0</text>
<line x1="1360.5" y1="879.4" x2="1904.3" y2="879.4" stroke="#d6d6d6" stroke-width="1.4"/>
<text transform="translate(1332.2 888.4) scale(1.02 1)" font-size="30.2" text-anchor="end" font-weight="bold" fill="#000">2</text>
<line x1="1360.5" y1="828.4" x2="1904.3" y2="828.4" stroke="#d6d6d6" stroke-width="1.4"/>
<text transform="translate(1332.2 837.4) scale(1.02 1)" font-size="30.2" text-anchor="end" font-weight="bold" fill="#000">4</text>
<line x1="1360.5" y1="778.2" x2="1904.3" y2="778.2" stroke="#d6d6d6" stroke-width="1.4"/>
<text transform="translate(1332.2 787.2) scale(1.02 1)" font-size="30.2" text-anchor="end" font-weight="bold" fill="#000">6</text>
<line x1="1360.5" y1="728.4" x2="1904.3" y2="728.4" stroke="#d6d6d6" stroke-width="1.4"/>
<text transform="translate(1332.2 737.4) scale(1.02 1)" font-size="30.2" text-anchor="end" font-weight="bold" fill="#000">8</text>
<line x1="1360.5" y1="676.6" x2="1904.3" y2="676.6" stroke="#d6d6d6" stroke-width="1.4"/>
<text transform="translate(1332.2 685.6) scale(1.02 1)" font-size="30.2" text-anchor="end" font-weight="bold" fill="#000">10</text>
<line x1="1360.5" y1="626.6" x2="1904.3" y2="626.6" stroke="#d6d6d6" stroke-width="1.4"/>
<text transform="translate(1332.2 635.6) scale(1.02 1)" font-size="30.2" text-anchor="end" font-weight="bold" fill="#000">12</text>
<line x1="1360.0" y1="626" x2="1360.0" y2="930.7" stroke="#000" stroke-width="1.8"/>
<defs>
<linearGradient id="gb" x1="0" x2="1" y1="0" y2="0">
<stop offset="0" stop-color="#123d26"/><stop offset="0.06" stop-color="#124226"/><stop offset="0.08" stop-color="#0aa44c"/>
<stop offset="0.3" stop-color="#0fb658"/><stop offset="0.47" stop-color="#10bc5b"/><stop offset="0.53" stop-color="#0aa850"/>
<stop offset="0.9" stop-color="#089a46"/><stop offset="0.93" stop-color="#0f3a22"/><stop offset="1" stop-color="#0f3420"/>
</linearGradient>
<linearGradient id="yb" x1="0" x2="1" y1="0" y2="0">
<stop offset="0" stop-color="#45430f"/><stop offset="0.08" stop-color="#4c4a10"/><stop offset="0.1" stop-color="#c9c800"/>
<stop offset="0.3" stop-color="#f0f000"/><stop offset="0.48" stop-color="#ffff14"/><stop offset="0.62" stop-color="#f0f000"/>
<stop offset="0.8" stop-color="#a8a600"/><stop offset="0.9" stop-color="#6e6c08"/><stop offset="0.92" stop-color="#3a380c"/><stop offset="1" stop-color="#2e2c0a"/>
</linearGradient></defs>
<rect x="1392.9" y="830.6" width="32.2" height="99.9" fill="url(#gb)"/>
<path d="M1395.5 832.8 H1422.5 L1410.0 841.6 Z" fill="#3fe892" opacity="0.9"/>
<rect x="1392.9" y="830.6" width="32.2" height="2" fill="#123d26"/>
<rect x="1392.9" y="928.6" width="32.2" height="1.9" fill="#123d26"/>
<path d="M1395.5 930.5 L1401.9 918.0 H1416.1 L1422.5 930.5 Z" fill="#079040" opacity="0.7"/>
<path d="M1409.5 823.2 V839.9 M1404.9 823.2 H1414.1 M1404.9 839.9 H1414.1" stroke="#595959" stroke-width="2.6" fill="none"/>
<path d="M1409.5 832.1 V839.9 M1404.9 839.9 H1414.1" stroke="#4c6a58" stroke-width="2.6" fill="none"/>
<rect x="1528.7" y="804.4" width="32.2" height="126.1" fill="url(#gb)"/>
<path d="M1531.3 806.6 H1558.3 L1545.8 815.4 Z" fill="#3fe892" opacity="0.9"/>
<rect x="1528.7" y="804.4" width="32.2" height="2" fill="#123d26"/>
<rect x="1528.7" y="928.6" width="32.2" height="1.9" fill="#123d26"/>
<path d="M1531.3 930.5 L1537.7 918.0 H1551.9 L1558.3 930.5 Z" fill="#079040" opacity="0.7"/>
<path d="M1544.8 792.8 V819.0 M1540.2 792.8 H1549.4 M1540.2 819.0 H1549.4" stroke="#595959" stroke-width="2.6" fill="none"/>
<path d="M1544.8 805.9 V819.0 M1540.2 819.0 H1549.4" stroke="#4c6a58" stroke-width="2.6" fill="none"/>
<rect x="1665.8" y="830.6" width="32.2" height="99.9" fill="url(#gb)"/>
<path d="M1668.4 832.8 H1695.4 L1682.9 841.6 Z" fill="#3fe892" opacity="0.9"/>
<rect x="1665.8" y="830.6" width="32.2" height="2" fill="#123d26"/>
<rect x="1665.8" y="928.6" width="32.2" height="1.9" fill="#123d26"/>
<path d="M1668.4 930.5 L1674.8 918.0 H1689.0 L1695.4 930.5 Z" fill="#079040" opacity="0.7"/>
<path d="M1680.2 812.5 V849.7 M1675.6 812.5 H1684.8 M1675.6 849.7 H1684.8" stroke="#595959" stroke-width="2.6" fill="none"/>
<path d="M1680.2 832.1 V849.7 M1675.6 849.7 H1684.8" stroke="#4c6a58" stroke-width="2.6" fill="none"/>
<rect x="1801.6" y="830.6" width="32.2" height="99.9" fill="url(#gb)"/>
<path d="M1804.2 832.8 H1831.2 L1818.7 841.6 Z" fill="#3fe892" opacity="0.9"/>
<rect x="1801.6" y="830.6" width="32.2" height="2" fill="#123d26"/>
<rect x="1801.6" y="928.6" width="32.2" height="1.9" fill="#123d26"/>
<path d="M1804.2 930.5 L1810.6 918.0 H1824.8 L1831.2 930.5 Z" fill="#079040" opacity="0.7"/>
<path d="M1815.8 821.3 V843.4 M1811.2 821.3 H1820.4 M1811.2 843.4 H1820.4" stroke="#595959" stroke-width="2.6" fill="none"/>
<path d="M1815.8 832.1 V843.4 M1811.2 843.4 H1820.4" stroke="#4c6a58" stroke-width="2.6" fill="none"/>
<rect x="1432.1" y="767.5" width="32.4" height="163.0" fill="url(#yb)"/>
<path d="M1435.1 769.7 H1461.5 L1448.8 781.5 Z" fill="#ffff3c" opacity="0.85"/>
<path d="M1461.5 769.7 L1448.8 781.5 L1461.5 787.5 Z" fill="#8a8800" opacity="0.35"/>
<rect x="1432.1" y="767.5" width="32.4" height="2" fill="#45430f"/>
<path d="M1435.1 928.5 Q1439.1 921.0 1448.3 919.5 Q1457.5 921.0 1461.5 928.5 Z" fill="#8a8800" opacity="0.7"/>
<rect x="1432.1" y="928.4" width="32.4" height="2.1" fill="#3a380c"/>
<path d="M1447.6 730.0 V805.6 M1443.0 730.0 H1452.2 M1443.0 805.6 H1452.2" stroke="#595959" stroke-width="2.6" fill="none"/>
<path d="M1447.6 769.0 V805.6 M1443.0 805.6 H1452.2" stroke="#66643c" stroke-width="2.6" fill="none"/>
<rect x="1568.1" y="724.8" width="32.4" height="205.7" fill="url(#yb)"/>
<path d="M1571.1 727.0 H1597.5 L1584.8 738.8 Z" fill="#ffff3c" opacity="0.85"/>
<path d="M1597.5 727.0 L1584.8 738.8 L1597.5 744.8 Z" fill="#8a8800" opacity="0.35"/>
<rect x="1568.1" y="724.8" width="32.4" height="2" fill="#45430f"/>
<path d="M1571.1 928.5 Q1575.1 921.0 1584.3 919.5 Q1593.5 921.0 1597.5 928.5 Z" fill="#8a8800" opacity="0.7"/>
<rect x="1568.1" y="928.4" width="32.4" height="2.1" fill="#3a380c"/>
<path d="M1583.0 680.3 V770.4 M1578.4 680.3 H1587.6 M1578.4 770.4 H1587.6" stroke="#595959" stroke-width="2.6" fill="none"/>
<path d="M1583.0 726.3 V770.4 M1578.4 770.4 H1587.6" stroke="#66643c" stroke-width="2.6" fill="none"/>
<rect x="1703.7" y="747.8" width="32.4" height="182.7" fill="url(#yb)"/>
<path d="M1706.7 750.0 H1733.1 L1720.4 761.8 Z" fill="#ffff3c" opacity="0.85"/>
<path d="M1733.1 750.0 L1720.4 761.8 L1733.1 767.8 Z" fill="#8a8800" opacity="0.35"/>
<rect x="1703.7" y="747.8" width="32.4" height="2" fill="#45430f"/>
<path d="M1706.7 928.5 Q1710.7 921.0 1719.9 919.5 Q1729.1 921.0 1733.1 928.5 Z" fill="#8a8800" opacity="0.7"/>
<rect x="1703.7" y="928.4" width="32.4" height="2.1" fill="#3a380c"/>
<path d="M1718.5 687.6 V808.3 M1713.9 687.6 H1723.1 M1713.9 808.3 H1723.1" stroke="#595959" stroke-width="2.6" fill="none"/>
<path d="M1718.5 749.3 V808.3 M1713.9 808.3 H1723.1" stroke="#66643c" stroke-width="2.6" fill="none"/>
<rect x="1839.6" y="756.7" width="32.4" height="173.8" fill="url(#yb)"/>
<path d="M1842.6 758.9 H1869.0 L1856.3 770.7 Z" fill="#ffff3c" opacity="0.85"/>
<path d="M1869.0 758.9 L1856.3 770.7 L1869.0 776.7 Z" fill="#8a8800" opacity="0.35"/>
<rect x="1839.6" y="756.7" width="32.4" height="2" fill="#45430f"/>
<path d="M1842.6 928.5 Q1846.6 921.0 1855.8 919.5 Q1865.0 921.0 1869.0 928.5 Z" fill="#8a8800" opacity="0.7"/>
<rect x="1839.6" y="928.4" width="32.4" height="2.1" fill="#3a380c"/>
<path d="M1855.5 707.5 V808.3 M1850.9 707.5 H1860.1 M1850.9 808.3 H1860.1" stroke="#595959" stroke-width="2.6" fill="none"/>
<path d="M1855.5 758.2 V808.3 M1850.9 808.3 H1860.1" stroke="#66643c" stroke-width="2.6" fill="none"/>
<rect x="1535.0" y="634.3" width="19.8" height="19.0" fill="#0dab50" stroke="#14301f" stroke-width="1.8"/>
<path d="M1536.2 635.4 H1553.6 L1544.9 643.6 Z" fill="#35e088"/>
<path d="M1536.2 652.2 L1540 648 H1550 L1553.6 652.2 Z" fill="#08903f" opacity="0.8"/>
<text x="1561.2" y="654.2" font-size="35.5" text-anchor="start" font-weight="normal" fill="#111" textLength="40.6" lengthAdjust="spacingAndGlyphs">Ra</text>
<rect x="1646.2" y="634.3" width="19.8" height="19.0" fill="#e6e600" stroke="#35330c" stroke-width="1.8"/>
<path d="M1647.4 635.4 H1664.8 L1656.1 645 Z" fill="#ffff2a"/>
<path d="M1647.4 652.2 L1651.5 646.5 H1660.7 L1664.8 652.2 Z" fill="#9a9800"/>
<path d="M1664.8 635.4 V652.2 L1660.7 646.5 L1656.1 645 Z" fill="#b4b200"/>
<text x="1674.0" y="654.2" font-size="35.5" text-anchor="start" font-weight="normal" fill="#111" textLength="120.2" lengthAdjust="spacingAndGlyphs">WLI-Ra</text>
<text x="1441.0" y="982.6" font-size="22.3" text-anchor="middle" font-weight="bold" fill="#000" textLength="97.0" lengthAdjust="spacingAndGlyphs">R1 (HAP)</text>
<text x="1567.0" y="977.6" font-size="22.3" text-anchor="middle" font-weight="bold" fill="#000" textLength="102.0" lengthAdjust="spacingAndGlyphs">R2 (HAP+</text>
<text x="1568.0" y="1004.7" font-size="22.3" text-anchor="middle" font-weight="bold" fill="#000" textLength="84.0" lengthAdjust="spacingAndGlyphs">0.5 wt.%</text>
<text x="1568.0" y="1030.2" font-size="22.3" text-anchor="middle" font-weight="bold" fill="#000" textLength="53.0" lengthAdjust="spacingAndGlyphs">GNP)</text>
<text x="1696.5" y="973.4" font-size="22.3" text-anchor="middle" font-weight="bold" fill="#000" textLength="102.0" lengthAdjust="spacingAndGlyphs">R3 (HAP+</text>
<text x="1697.5" y="1000.0" font-size="22.3" text-anchor="middle" font-weight="bold" fill="#000" textLength="66.3" lengthAdjust="spacingAndGlyphs">2 wt.%</text>
<text x="1697.3" y="1025.6" font-size="22.3" text-anchor="middle" font-weight="bold" fill="#000" textLength="53.0" lengthAdjust="spacingAndGlyphs">GNP)</text>
<text x="1842.7" y="969.9" font-size="22.3" text-anchor="middle" font-weight="bold" fill="#000" textLength="102.0" lengthAdjust="spacingAndGlyphs">R4 (HAP+</text>
<text x="1841.7" y="996.6" font-size="22.3" text-anchor="middle" font-weight="bold" fill="#000" textLength="66.3" lengthAdjust="spacingAndGlyphs">5 wt.%</text>
<text x="1843.0" y="1022.6" font-size="22.3" text-anchor="middle" font-weight="bold" fill="#000" textLength="53.0" lengthAdjust="spacingAndGlyphs">GNP)</text>
<text x="1296.2" y="998.4" font-size="36" text-anchor="middle" font-weight="bold" fill="#000">(e)</text>
<text x="1287.7" y="913.8" font-size="31.6" text-anchor="start" font-weight="bold" fill="#000" transform="rotate(-90 1287.7 913.8)" textLength="270.4" lengthAdjust="spacingAndGlyphs">Roughness (Ra,µm)</text>
</g>
</svg>
</body>
</html>
